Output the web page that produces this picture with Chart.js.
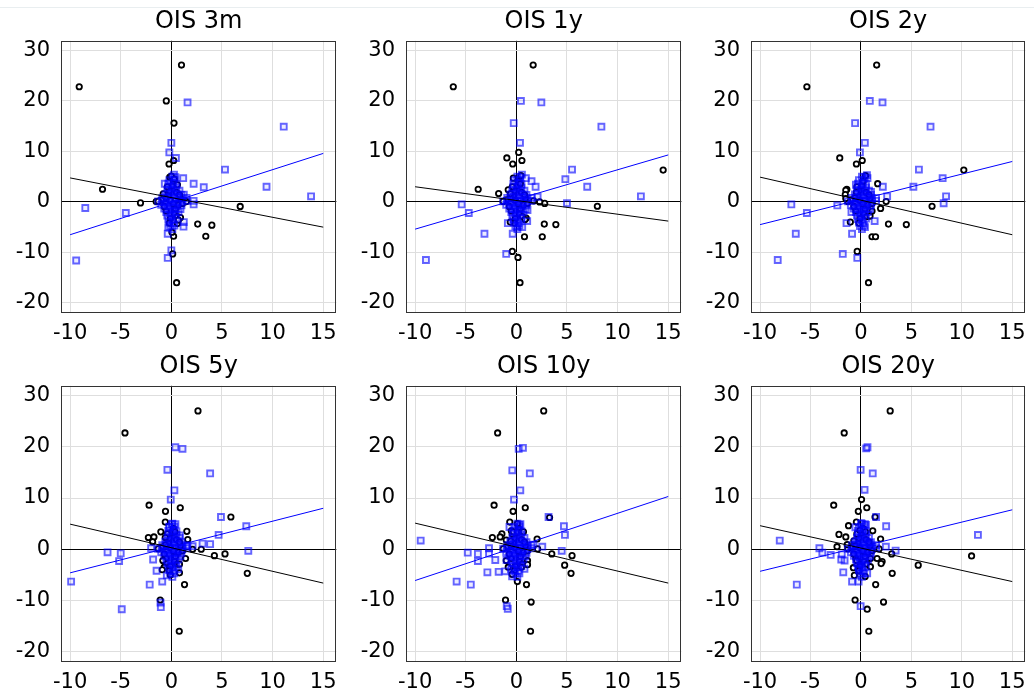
<!DOCTYPE html>
<html><head><meta charset="utf-8">
<script src="https://cdn.jsdelivr.net/npm/chart.js@4.4.1/dist/chart.umd.min.js"></script>
<style>
html,body{margin:0;padding:0;background:#fff;width:1034px;height:694px;overflow:hidden;position:relative}
canvas{position:absolute}
#topline{position:absolute;left:0;top:7px;width:1034px;height:1px;background:#e9eef0}
</style></head><body>
<div id="topline"></div>
<canvas id="c0" width="345" height="345" style="left:0;top:0"></canvas>
<canvas id="c1" width="345" height="345" style="left:345px;top:0"></canvas>
<canvas id="c2" width="344" height="345" style="left:690px;top:0"></canvas>
<canvas id="c3" width="345" height="349" style="left:0;top:345px"></canvas>
<canvas id="c4" width="345" height="349" style="left:345px;top:345px"></canvas>
<canvas id="c5" width="344" height="349" style="left:690px;top:345px"></canvas>
<script>
// ---- data ----
const titles = ["OIS 3m", "OIS 1y", "OIS 2y", "OIS 5y", "OIS 10y", "OIS 20y"];
const xTicks = [-10, -5, 0, 5, 10, 15];
const yTicks = [-20, -10, 0, 10, 20, 30];
const lineX = [-10, 15];
const blackLineY = [[4.75, -5.0], [3.0, -3.8], [4.9, -6.5], [4.9, -6.6], [5.1, -6.6], [4.6, -6.3]];
const blueLineY = [[-6.5, 9.6], [-5.4, 9.3], [-4.5, 8.0], [-4.6, 8.0], [-6.1, 10.3], [-4.3, 7.7]];

// dense central cluster common to all panels (read as a blob near the origin)
const coreBlack = [[-0.1,0.3],[0.2,-0.4],[-0.3,1.2],[0.4,-1.4],[-0.2,2.2],[0.3,-2.4],[0.1,3.2],[-0.1,-3.3],[0.2,4.1],[-0.2,-4.2],[-0.6,0.8],[0.7,-0.6],[-1.0,0.4],[1.1,-0.3],[-0.5,-1.8],[0.5,1.9],[-1.3,0.1],[0.9,0.7],[-0.7,-0.9],[0.6,-2.9],[-0.4,3.0],[0.8,1.4]];
const coreBlue = [
  [0.1,5.0],[0.4,4.9],[-0.2,4.3],[0.3,4.4],[-0.3,3.6],[0.2,3.7],[0.5,3.5],
  [-0.3,2.9],[0.1,3.0],[0.5,2.8],[-0.4,2.2],[0.0,2.3],[0.4,2.1],[0.8,2.2],
  [-0.6,1.5],[-0.2,1.6],[0.2,1.4],[0.6,1.5],[1.0,1.4],
  [-0.9,0.8],[-0.5,0.9],[-0.1,0.7],[0.3,0.8],[0.7,0.9],[1.1,0.7],[1.5,0.8],
  [-1.3,0.1],[-0.9,0.2],[-0.5,0.0],[-0.1,0.1],[0.3,0.2],[0.7,0.0],[1.1,0.1],[1.5,0.2],
  [-1.0,-0.6],[-0.6,-0.5],[-0.2,-0.7],[0.2,-0.6],[0.6,-0.5],[1.0,-0.7],
  [-0.7,-1.3],[-0.3,-1.4],[0.1,-1.2],[0.5,-1.3],[0.9,-1.4],
  [-0.5,-2.0],[-0.1,-2.1],[0.3,-1.9],[0.7,-2.0],
  [-0.4,-2.7],[0.0,-2.8],[0.4,-2.6],
  [-0.3,-3.4],[0.1,-3.5],[0.5,-3.3],
  [-0.2,-4.1],[0.2,-4.2],[-0.1,-4.8],[0.3,-4.7],[0.1,-5.4]
];

const black3m = [[-9.1,22.8],[1.0,27.1],[-0.5,20.0],[0.26,15.6],[0.23,8.2],[-0.23,7.5],[-6.8,2.5],[-3.05,-0.2],[6.8,-0.9],[2.6,-4.4],[4.0,-4.6],[3.4,-6.8],[0.22,-6.8],[0.06,-6.0],[0.13,-10.3],[0.52,-16.0],[0.9,-3.1],[0.6,-4.3],[0.7,-3.6],[-0.16,4.9],[0.6,3.4],[-1.5,0.06],[-1.3,0.1],[1.5,0.06],[-0.8,1.6],[0.0,5.1],[0.3,4.5]];
const blue3m = [[-9.4,-11.6],[-8.5,-1.2],[-4.5,-2.2],[1.6,19.7],[11.1,14.9],[5.3,6.4],[9.4,3.0],[13.8,1.1],[1.17,4.7],[2.2,3.6],[3.2,2.9],[0,11.7],[-0.2,9.8],[0.45,8.7],[-0.65,3.6],[0.26,5.4],[1.23,1.45],[2.2,-0.5],[1.23,-4.0],[1.2,-4.9],[-0.3,-5.0],[-0.36,-6.3],[0,-9.6],[-0.36,-11.1],[2.2,0.2]];

const black1y = [[-6.23,22.8],[1.66,27.1],[-0.94,8.7],[0.23,9.8],[-0.36,7.5],[0.55,8.2],[-3.77,2.5],[-1.75,1.65],[-0.8,2.4],[-0.3,4.7],[0.45,5.2],[0.4,3.6],[14.5,6.3],[8.0,-0.86],[2.8,-0.3],[2.3,0.0],[1.7,0.2],[2.76,-4.4],[3.9,-4.5],[0.8,-6.9],[2.56,-6.9],[0.97,-3.2],[0.85,-3.5],[-0.6,-4.0],[-0.4,-9.8],[0.16,-11.0],[0.36,-16.0],[-0.58,1.6]];
const blue1y = [[-8.93,-11.5],[-5.4,-0.5],[-4.7,-2.2],[-3.15,-6.3],[-1.0,-10.3],[-0.36,-6.3],[-0.84,-4.2],[0.45,20.0],[2.47,19.7],[-0.26,15.6],[8.4,14.9],[0.36,11.7],[5.5,6.4],[4.84,4.5],[7.0,3.0],[12.3,1.1],[5.0,-0.26],[0.94,4.7],[1.5,4.1],[1.9,3.0],[0.55,5.4],[1.1,-1.6],[1.07,-3.8],[0.58,-5.0],[0.1,-5.0],[2.1,1.0]];

const black2y = [[-5.36,22.8],[1.56,27.1],[-2.1,8.7],[-0.45,7.5],[0.13,8.2],[1.66,3.6],[0.45,5.2],[-1.4,2.5],[-1.5,2.3],[-1.55,1.45],[-1.5,0.66],[10.2,6.3],[7.05,-0.86],[2.5,0.07],[1.95,-1.3],[2.73,-4.4],[4.5,-4.5],[1.1,-6.9],[1.45,-6.9],[0.9,-2.8],[1.1,-1.8],[-1.05,-4.0],[-0.37,-9.8],[0.75,-16.0],[-0.45,1.9]];
const blue2y = [[-8.25,-11.5],[-6.9,-0.5],[-5.36,-2.2],[-6.46,-6.3],[-2.34,-0.7],[-1.8,-10.3],[-0.36,-11.1],[-0.88,-6.3],[-1.43,-4.2],[0.88,20.0],[2.14,19.7],[-0.58,15.6],[6.9,14.9],[0.39,11.7],[-0.1,9.8],[5.75,6.4],[5.2,3.0],[8.1,4.7],[8.44,1.1],[8.2,-0.26],[2.17,3.0],[2.6,1.1],[0.6,5.3],[0.65,4.7],[-0.5,3.4],[1.36,-3.8],[0.4,-5.0],[-0.94,-2.0],[1.0,2.0]];

const black5y = [[-4.58,22.7],[2.63,27.0],[-2.2,8.6],[-0.58,7.4],[0.88,8.1],[-0.6,5.3],[5.88,6.3],[-2.27,2.3],[-1.72,2.4],[-1.85,1.45],[-1.04,3.4],[-0.6,2.3],[1.53,3.5],[1.62,1.9],[0.1,3.4],[0.35,3.4],[2.95,0.0],[4.25,-1.25],[5.3,-0.9],[7.5,-4.7],[2.1,0.0],[1.3,-6.9],[1.4,-1.8],[0.8,-2.9],[0.8,-4.6],[-0.7,-3.5],[-0.9,-4.0],[-0.84,-2.2],[-0.1,-5.0],[-1.1,-9.9],[0.78,-16.0]];
const blue5y = [[-9.9,-6.3],[-6.3,-0.6],[-5.0,-0.8],[-5.16,-2.3],[-4.9,-11.7],[-2.14,-6.9],[-2.0,0.2],[-1.8,-2.0],[-1.46,-4.2],[-0.9,-6.3],[-1.07,-10.4],[-1.04,-11.3],[0.39,19.9],[1.1,19.6],[-0.39,15.5],[3.83,14.8],[0.3,11.5],[-0.06,9.7],[4.9,6.3],[4.67,2.8],[7.4,4.5],[7.6,-0.3],[3.83,1.0],[3.08,1.1],[2.1,0.6],[0.84,2.7],[1.6,0.6],[0.06,4.9],[-0.2,4.4],[0.68,-3.9],[-0.45,-5.1]];

const black10y = [[-1.85,22.7],[2.7,27.0],[-2.2,8.6],[-0.32,7.4],[0.88,8.1],[-0.65,5.3],[0.1,5.0],[3.28,6.2],[-2.37,2.3],[-1.43,3.0],[-1.6,2.4],[-1.0,1.8],[-0.55,1.6],[-0.5,3.6],[-0.3,3.4],[0.1,3.4],[0.5,3.4],[0.7,3.4],[2.05,2.0],[2.1,0.07],[3.5,-0.9],[5.5,-1.25],[4.77,-3.1],[5.4,-4.7],[1.0,-6.9],[0.1,-6.3],[1.1,-2.2],[1.1,-3.0],[0.5,-3.5],[-0.8,-3.5],[-1.0,-2.2],[-0.42,-4.9],[-1.07,-9.9],[1.46,-10.3],[1.4,-16.0]];
const blue10y = [[-9.45,1.7],[-4.8,-0.66],[-3.8,-0.9],[-3.8,-2.3],[-2.7,0.2],[-2.7,-0.86],[-2.08,-2.1],[-5.9,-6.3],[-4.5,-6.9],[-2.86,-4.5],[-1.75,-4.4],[-1.1,-4.3],[-0.97,-2.1],[-0.95,-11.1],[-0.85,-11.6],[0.23,19.6],[0.65,19.8],[-0.4,15.4],[1.33,14.8],[0.39,11.5],[-0.23,9.7],[3.18,6.3],[4.7,4.5],[4.8,2.8],[4.48,-0.3],[2.56,0.5],[1.7,0.9],[-0.68,4.35],[0.29,4.75],[-0.42,-5.3],[0.8,-3.8],[-0.5,-3.8]];

const black20y = [[-1.66,22.7],[2.9,27.0],[-2.7,8.6],[0.06,9.7],[-0.26,7.4],[0.58,8.1],[-0.45,5.3],[-0.1,3.7],[-1.23,4.6],[-2.18,2.9],[-1.5,2.4],[-2.37,0.5],[-1.36,0.9],[-0.7,1.65],[0.45,3.4],[1.17,3.6],[1.4,6.3],[1.95,2.0],[1.8,0.07],[1.6,-1.8],[2.1,-2.4],[2.0,-2.8],[3.05,-0.9],[3.1,-4.7],[5.68,-3.1],[10.97,-1.3],[0.94,-1.8],[0.94,-3.4],[0.42,-5.3],[-0.65,-5.1],[-0.75,-3.6],[1.46,-6.9],[-0.58,-9.9],[2.24,-10.3],[0.62,-11.7],[0.78,-16.0],[-0.42,-2.2]];
const blue20y = [[-8.05,1.7],[-6.36,-6.9],[-4.12,0.2],[-3.83,-0.66],[-3.0,-1.1],[-1.9,-1.0],[-1.95,-2.0],[-1.62,-2.2],[-1.75,-4.5],[-0.88,-6.3],[-0.23,-6.3],[-0.03,-11.1],[0.52,19.7],[0.65,19.9],[-0.03,15.5],[1.17,14.8],[0.36,11.6],[1.5,6.3],[2.5,4.5],[11.6,2.8],[2.47,0.5],[3.44,-0.26],[0.5,4.75],[0.0,5.1],[-0.55,4.3],[0.62,-4.7],[-0.2,-3.75],[0.84,1.25]];

const blackSets = [black3m, black1y, black2y, black5y, black10y, black20y];
const blueSets = [blue3m, blue1y, blue2y, blue5y, blue10y, blue20y];

// ---- drawing ----
const X_MIN = -10.9, X_MAX = 16.3, Y_MIN = -22, Y_MAX = 31.9;
const FONT = "'DejaVu Sans', sans-serif";
const toPts = arr => arr.map(p => ({x: p[0], y: p[1]}));

const framePlugin = {
  id: 'frame',
  afterDatasetsDraw(chart) {
    const a = chart.chartArea, c = chart.ctx;
    c.save();
    c.strokeStyle = '#333';
    c.lineWidth = 1;
    c.strokeRect(Math.round(a.left) + 0.5, Math.round(a.top) + 0.5,
                 Math.round(a.right - a.left) - 1, Math.round(a.bottom - a.top) - 1);
    c.restore();
  }
};

function gridColor(ctx) {
  return (ctx.tick && ctx.tick.value === 0) ? '#000' : '#dedede';
}

for (let i = 0; i < 6; i++) {
  new Chart(document.getElementById('c' + i), {
    type: 'scatter',
    data: {
      datasets: [
        { type: 'line', data: lineX.map((x, k) => ({x, y: blackLineY[i][k]})), borderColor: '#000', borderWidth: 1, pointRadius: 0, fill: false },
        { type: 'line', data: lineX.map((x, k) => ({x, y: blueLineY[i][k]})), borderColor: '#0000ff', borderWidth: 1, pointRadius: 0, fill: false },
        { data: toPts(coreBlue.concat(blueSets[i])), pointStyle: 'rect', pointRadius: 4.2,
          borderColor: 'rgba(0,0,255,0.6)', backgroundColor: 'rgba(0,0,255,0.08)', borderWidth: 1.9 },
        { data: toPts(coreBlack.concat(blackSets[i])), pointStyle: 'circle', pointRadius: 2.7,
          borderColor: '#000', backgroundColor: '#fff', borderWidth: 1.8 }
      ]
    },
    options: {
      responsive: false, animation: false, events: [],
      layout: { padding: { left: 0, right: 5, top: 0, bottom: 0 } },
      plugins: {
        legend: { display: false }, tooltip: { enabled: false },
        title: { display: true, text: titles[i], color: '#000', fullSize: false,
                 font: { family: FONT, size: 24, weight: 'normal' }, padding: { top: 7, bottom: 5 } }
      },
      scales: {
        x: {
          type: 'linear', min: X_MIN, max: X_MAX,
          afterBuildTicks: s => { s.ticks = xTicks.map(v => ({value: v})); },
          afterFit: s => { s.height = 32; },
          grid: { color: gridColor, lineWidth: 1, drawTicks: false },
          border: { display: false },
          ticks: { color: '#000', font: { family: FONT, size: 21 }, padding: 8, maxRotation: 0, callback: v => String(v) }
        },
        y: {
          type: 'linear', min: Y_MIN, max: Y_MAX,
          afterBuildTicks: s => { s.ticks = yTicks.map(v => ({value: v})); },
          afterFit: s => { s.width = 61; },
          grid: { color: gridColor, lineWidth: 1, drawTicks: false },
          border: { display: false },
          ticks: { color: '#000', font: { family: FONT, size: 21 }, padding: 11, callback: v => String(v) }
        }
      }
    },
    plugins: [framePlugin]
  });
}
</script>
</body></html>
